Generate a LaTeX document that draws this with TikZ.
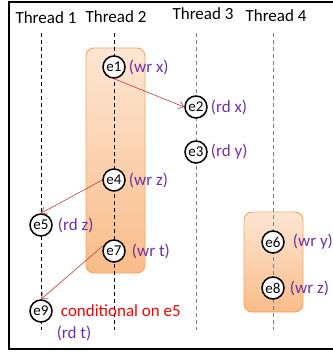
\documentclass[tikz,border=0pt]{standalone}
\usepackage{fontspec}
\setmainfont{Carlito}
\usepackage{xcolor}
\usetikzlibrary{positioning,arrows.meta}
\definecolor{evpurple}{HTML}{7030A0}
\definecolor{evred}{HTML}{FF0000}
\definecolor{evarrow}{HTML}{C0504D}
\definecolor{boxedge}{HTML}{F7A35C}
\definecolor{boxtop}{HTML}{FDE6D4}
\definecolor{boxbot}{HTML}{F9BC88}

\begin{document}
\begin{tikzpicture}[x=1pt, y=-1pt, font=\fontsize{17}{20}\selectfont,
	blk/.style = {draw=boxedge, line width=0.9pt, rounded corners=8pt, top color=boxtop, bottom color=boxbot},
	thread/.style = {dash pattern=on 4pt off 3pt, line width=0.8pt},
	event/.style = {circle, draw, line width=1.5pt, fill=white, minimum size=22pt, inner sep=0pt, font=\fontsize{15}{17}\selectfont},
	op/.style = {text=evpurple, inner sep=0pt},
	dep/.style = {draw=evarrow, line width=0.7pt, -{Straight Barb[length=5pt, width=8pt]}}]
	\useasboundingbox (0,0) rectangle (332,352);
	\draw [line width=1.8pt] (334,2) -- (9,2) -- (9,349) -- (334,349);

	\node (t1) at (46,18) {Thread 1};
	\node (t2) at (116,17) {Thread 2};
	\node (t3) at (203,14) {Thread 3};
	\node (t4) at (276,16) {Thread 4};

	\draw [blk] (86,48) rectangle (145,273);
	\draw [blk] (244,212) rectangle (303,312);

	\draw [thread] (41,33) -- (41,330);
	\draw [thread] (114,33) -- (114,330);
	\draw [thread, gray, line width=1pt] (196,33) -- (196,330);
	\draw [thread, gray, line width=1pt] (273,33) -- (273,330);

	\begin{scope}[every node/.style={event}]
	    \node (e1) at (114,67) {e1};
	    \node (e2) at (196,107) {e2};
	    \node (e3) at (196,152) {e3};
	    \node (e4) at (114,180) {e4};
	    \node (e5) at (41,225) {e5};
	    \node (e6) at (273,242) {e6};
	    \node (e7) at (114,251) {e7};
	    \node (e8) at (273,288) {e8};
	    \node (e9) at (41,311) {e9};
	\end{scope}

	\node[op, right = 3pt of e1] (o1) {(wr x)};
	\node[op, right = 3pt of e2] (o2) {(rd x)};
	\node[op, right = 3pt of e3] (o3) {(rd y)};
	\node[op, right = 3pt of e4] (o4) {(wr z)};
	\node[op, right = 5pt of e5] (o5) {(rd z)};
	\node[op, right = 8pt of e6] (o6) {(wr y)};
	\node[op, right = 6pt of e7] (o7) {(wr t)};
	\node[op, right = 5pt of e8] (o8) {(wr z)};
	\node[op] (o9) at (74,333) {(rd t)};
	\node[text=evred, inner sep=0pt, right = 8pt of e9] (cond) {conditional on e5};

	\draw [dep] (e1.south) -- (e2.west);
	\draw [dep] (e4.west) -- (e5.north);
	\draw [dep] (e7.150) -- (e9.north);

    \end{tikzpicture}
\end{document}
